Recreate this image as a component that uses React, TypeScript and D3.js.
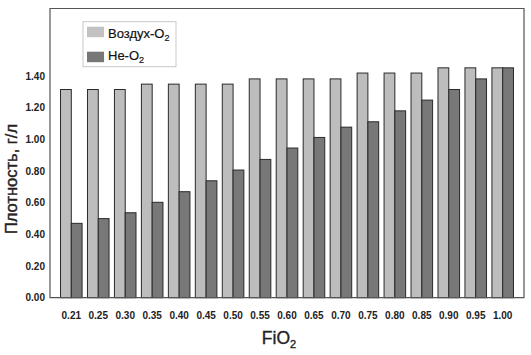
import React from "react";
import * as d3 from "d3";

const categories = ["0.21","0.25","0.30","0.35","0.40","0.45","0.50","0.55","0.60","0.65","0.70","0.75","0.80","0.85","0.90","0.95","1.00"];
const airO2 = [1.316,1.316,1.316,1.35,1.35,1.35,1.35,1.383,1.383,1.383,1.383,1.42,1.42,1.42,1.453,1.453,1.453];
const heO2 = [0.47,0.50,0.537,0.603,0.67,0.739,0.807,0.874,0.946,1.013,1.078,1.112,1.181,1.249,1.316,1.383,1.453];
const yTicks = [0,0.2,0.4,0.6,0.8,1.0,1.2,1.4];
const seriesNames = ["Воздух-O", "He-O"];

const W = 531, H = 355;
const L = 50, R = 524, T = 8.5, B = 297.7;

export default function App() {
  const x = d3.scaleBand<string>().domain(categories).range([L, R]).paddingInner(0.2).paddingOuter(0.39);
  const sub = d3.scaleBand<number>().domain([0, 1]).range([0, x.bandwidth()]);
  const y = d3.scaleLinear().domain([0, 1.828]).range([B, T]);
  const fills = ["#bdbdbd", "#787878"];
  const series = [airO2, heO2];
  const font = "'Liberation Sans', Arial, sans-serif";

  return (
    <svg width={W} height={H} style={{ position: "absolute", left: 0, top: 0, background: "#fff" }} fontFamily={font}>
      {categories.map((c, i) => (
        <g key={c}>
          {series.map((s, k) => (
            <rect key={k} x={(x(c) as number) + sub(k)!} y={y(s[i])} width={sub.bandwidth()} height={B - y(s[i])}
              fill={fills[k]} stroke="#2a2a2a" strokeWidth={1} />
          ))}
        </g>
      ))}
      <path d={`M${L},${B}V${T}H${R}V${B}Z`} fill="none" stroke="#555" strokeWidth={1.2} />
      {yTicks.map(t => (
        <text key={t} x={45} y={y(t)} dy="0.35em" textAnchor="end" fontSize={10} fontWeight="bold" fill="#222">{t.toFixed(2)}</text>
      ))}
      {categories.map(c => (
        <text key={c} x={(x(c) as number) + x.bandwidth() / 2} y={319} textAnchor="middle" fontSize={10} fontWeight="bold" fill="#222">{c}</text>
      ))}
      <text x={279} y={344} textAnchor="middle" fontSize={17.5} fill="#222" stroke="#222" strokeWidth={0.35}>FiO<tspan fontSize={11} dy={4}>2</tspan></text>
      <text transform={`translate(17,179) rotate(-90)`} textAnchor="middle" fontSize={16.5} fill="#222" stroke="#222" strokeWidth={0.4}>Плотность, г/л</text>
      <rect x={83} y={21.7} width={93} height={45} fill="#fff" stroke="#c8c8c8" strokeWidth={1} />
      {seriesNames.map((n, k) => (
        <g key={n}>
          <rect x={87} y={26.7 + k * 25} width={17} height={10.5} fill={k === 0 ? "#c2c2c2" : "#777"} />
          <text x={108} y={38.3 + k * 22} fontSize={13} fill="#111" stroke="#111" strokeWidth={0.2}>{n}<tspan fontSize={9} dy={3}>2</tspan></text>
        </g>
      ))}
    </svg>
  );
}
